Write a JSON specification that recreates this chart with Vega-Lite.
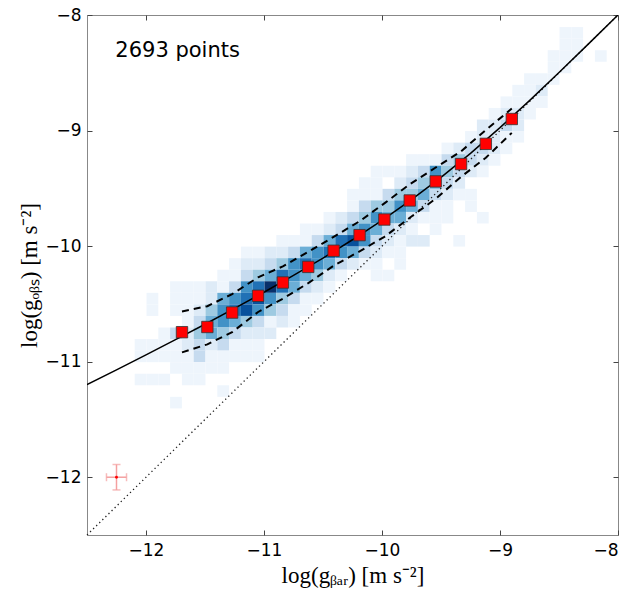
{
  "$schema": "https://vega.github.io/schema/vega-lite/v6.json",
  "autosize": "none",
  "width": 531,
  "height": 520,
  "padding": {"left": 87, "top": 15, "right": 22, "bottom": 61},
  "background": "white",
  "config": {
    "view": {"stroke": "#888888", "strokeWidth": 1},
    "axis": {
      "grid": false,
      "domain": false,
      "ticks": true,
      "tickColor": "#444444",
      "tickWidth": 1,
      "tickSize": 5,
      "offset": -5,
      "labelFont": "DejaVu Sans",
      "labelFontSize": 17,
      "labelColor": "black",
      "titleFont": "Liberation Serif",
      "titleFontSize": 23,
      "titleFontWeight": "normal",
      "titleColor": "black"
    }
  },
  "datasets": {
    "cells": [
      {"x": -11.15, "y": -10.05, "n": 1},
      {"x": -11.25, "y": -10.15, "n": 1}, {"x": -11.15, "y": -10.15, "n": 2},
      {"x": -11.35, "y": -10.25, "n": 1}, {"x": -11.25, "y": -10.25, "n": 1}, {"x": -11.15, "y": -10.25, "n": 3},
      {"x": -11.75, "y": -10.35, "n": 1}, {"x": -11.65, "y": -10.35, "n": 1}, {"x": -11.55, "y": -10.35, "n": 1}, {"x": -11.45, "y": -10.35, "n": 2}, {"x": -11.35, "y": -10.35, "n": 1}, {"x": -11.25, "y": -10.35, "n": 3}, {"x": -11.15, "y": -10.35, "n": 6},
      {"x": -11.95, "y": -10.45, "n": 1}, {"x": -11.75, "y": -10.45, "n": 1}, {"x": -11.65, "y": -10.45, "n": 1}, {"x": -11.55, "y": -10.45, "n": 1}, {"x": -11.45, "y": -10.45, "n": 2}, {"x": -11.35, "y": -10.45, "n": 5}, {"x": -11.25, "y": -10.45, "n": 6}, {"x": -11.15, "y": -10.45, "n": 7},
      {"x": -11.95, "y": -10.55, "n": 1}, {"x": -11.75, "y": -10.55, "n": 1}, {"x": -11.65, "y": -10.55, "n": 1}, {"x": -11.55, "y": -10.55, "n": 2}, {"x": -11.45, "y": -10.55, "n": 4}, {"x": -11.35, "y": -10.55, "n": 6}, {"x": -11.25, "y": -10.55, "n": 7}, {"x": -11.15, "y": -10.55, "n": 8},
      {"x": -11.65, "y": -10.65, "n": 1}, {"x": -11.55, "y": -10.65, "n": 3}, {"x": -11.45, "y": -10.65, "n": 5}, {"x": -11.35, "y": -10.65, "n": 6}, {"x": -11.25, "y": -10.65, "n": 5}, {"x": -11.15, "y": -10.65, "n": 4},
      {"x": -11.85, "y": -10.75, "n": 1}, {"x": -11.75, "y": -10.75, "n": 3}, {"x": -11.65, "y": -10.75, "n": 2}, {"x": -11.55, "y": -10.75, "n": 4}, {"x": -11.45, "y": -10.75, "n": 5}, {"x": -11.35, "y": -10.75, "n": 4}, {"x": -11.25, "y": -10.75, "n": 3}, {"x": -11.15, "y": -10.75, "n": 2},
      {"x": -12.05, "y": -10.85, "n": 1}, {"x": -11.95, "y": -10.85, "n": 1}, {"x": -11.85, "y": -10.85, "n": 1}, {"x": -11.75, "y": -10.85, "n": 1}, {"x": -11.65, "y": -10.85, "n": 2}, {"x": -11.55, "y": -10.85, "n": 3}, {"x": -11.45, "y": -10.85, "n": 2}, {"x": -11.35, "y": -10.85, "n": 3}, {"x": -11.25, "y": -10.85, "n": 1}, {"x": -11.15, "y": -10.85, "n": 1},
      {"x": -12.05, "y": -10.95, "n": 1}, {"x": -11.95, "y": -10.95, "n": 1}, {"x": -11.85, "y": -10.95, "n": 1}, {"x": -11.75, "y": -10.95, "n": 1}, {"x": -11.65, "y": -10.95, "n": 1}, {"x": -11.55, "y": -10.95, "n": 3}, {"x": -11.45, "y": -10.95, "n": 1}, {"x": -11.35, "y": -10.95, "n": 1}, {"x": -11.25, "y": -10.95, "n": 1}, {"x": -11.15, "y": -10.95, "n": 1},
      {"x": -11.75, "y": -11.05, "n": 1}, {"x": -11.65, "y": -11.05, "n": 1}, {"x": -11.55, "y": -11.05, "n": 1}, {"x": -11.45, "y": -11.05, "n": 1}, {"x": -11.35, "y": -11.05, "n": 1},
      {"x": -12.05, "y": -11.15, "n": 1}, {"x": -11.95, "y": -11.15, "n": 1}, {"x": -11.85, "y": -11.15, "n": 1}, {"x": -11.65, "y": -11.15, "n": 1}, {"x": -11.55, "y": -11.15, "n": 1},
      {"x": -11.35, "y": -11.25, "n": 1},
      {"x": -11.75, "y": -11.35, "n": 1},
      {"x": -10.05, "y": -9.35, "n": 1}, {"x": -9.95, "y": -9.35, "n": 1},
      {"x": -10.15, "y": -9.45, "n": 1}, {"x": -10.05, "y": -9.45, "n": 1},
      {"x": -10.25, "y": -9.55, "n": 1}, {"x": -10.15, "y": -9.55, "n": 1}, {"x": -10.05, "y": -9.55, "n": 1}, {"x": -9.95, "y": -9.55, "n": 3},
      {"x": -10.25, "y": -9.65, "n": 1}, {"x": -10.15, "y": -9.65, "n": 3}, {"x": -10.05, "y": -9.65, "n": 4}, {"x": -9.95, "y": -9.65, "n": 4},
      {"x": -10.45, "y": -9.75, "n": 1}, {"x": -10.35, "y": -9.75, "n": 2}, {"x": -10.25, "y": -9.75, "n": 3}, {"x": -10.15, "y": -9.75, "n": 4}, {"x": -10.05, "y": -9.75, "n": 6}, {"x": -9.95, "y": -9.75, "n": 5},
      {"x": -10.65, "y": -9.85, "n": 1}, {"x": -10.55, "y": -9.85, "n": 1}, {"x": -10.45, "y": -9.85, "n": 2}, {"x": -10.35, "y": -9.85, "n": 3}, {"x": -10.25, "y": -9.85, "n": 5}, {"x": -10.15, "y": -9.85, "n": 6}, {"x": -10.05, "y": -9.85, "n": 5}, {"x": -9.95, "y": -9.85, "n": 3},
      {"x": -10.85, "y": -9.95, "n": 1}, {"x": -10.75, "y": -9.95, "n": 1}, {"x": -10.65, "y": -9.95, "n": 1}, {"x": -10.55, "y": -9.95, "n": 3}, {"x": -10.45, "y": -9.95, "n": 5}, {"x": -10.35, "y": -9.95, "n": 7}, {"x": -10.25, "y": -9.95, "n": 8}, {"x": -10.15, "y": -9.95, "n": 6}, {"x": -10.05, "y": -9.95, "n": 3}, {"x": -9.95, "y": -9.95, "n": 2},
      {"x": -11.05, "y": -10.05, "n": 1}, {"x": -10.95, "y": -10.05, "n": 2}, {"x": -10.85, "y": -10.05, "n": 2}, {"x": -10.75, "y": -10.05, "n": 3}, {"x": -10.65, "y": -10.05, "n": 5}, {"x": -10.55, "y": -10.05, "n": 6}, {"x": -10.45, "y": -10.05, "n": 7}, {"x": -10.35, "y": -10.05, "n": 6}, {"x": -10.25, "y": -10.05, "n": 5}, {"x": -10.15, "y": -10.05, "n": 3}, {"x": -10.05, "y": -10.05, "n": 2}, {"x": -9.95, "y": -10.05, "n": 1},
      {"x": -11.05, "y": -10.15, "n": 2}, {"x": -10.95, "y": -10.15, "n": 3}, {"x": -10.85, "y": -10.15, "n": 4}, {"x": -10.75, "y": -10.15, "n": 6}, {"x": -10.65, "y": -10.15, "n": 7}, {"x": -10.55, "y": -10.15, "n": 6}, {"x": -10.45, "y": -10.15, "n": 5}, {"x": -10.35, "y": -10.15, "n": 3}, {"x": -10.25, "y": -10.15, "n": 2}, {"x": -10.15, "y": -10.15, "n": 1}, {"x": -10.05, "y": -10.15, "n": 1},
      {"x": -11.05, "y": -10.25, "n": 4}, {"x": -10.95, "y": -10.25, "n": 5}, {"x": -10.85, "y": -10.25, "n": 7}, {"x": -10.75, "y": -10.25, "n": 6}, {"x": -10.65, "y": -10.25, "n": 5}, {"x": -10.55, "y": -10.25, "n": 4}, {"x": -10.45, "y": -10.25, "n": 2}, {"x": -10.35, "y": -10.25, "n": 1}, {"x": -10.05, "y": -10.25, "n": 1}, {"x": -9.95, "y": -10.25, "n": 1},
      {"x": -11.05, "y": -10.35, "n": 7}, {"x": -10.95, "y": -10.35, "n": 9}, {"x": -10.85, "y": -10.35, "n": 7}, {"x": -10.75, "y": -10.35, "n": 5}, {"x": -10.65, "y": -10.35, "n": 3}, {"x": -10.55, "y": -10.35, "n": 2}, {"x": -10.45, "y": -10.35, "n": 1},
      {"x": -11.05, "y": -10.45, "n": 8}, {"x": -10.95, "y": -10.45, "n": 6}, {"x": -10.85, "y": -10.45, "n": 4}, {"x": -10.75, "y": -10.45, "n": 3}, {"x": -10.65, "y": -10.45, "n": 1}, {"x": -10.55, "y": -10.45, "n": 1},
      {"x": -11.05, "y": -10.55, "n": 6}, {"x": -10.95, "y": -10.55, "n": 4}, {"x": -10.85, "y": -10.55, "n": 3}, {"x": -10.75, "y": -10.55, "n": 1}, {"x": -10.65, "y": -10.55, "n": 1},
      {"x": -11.05, "y": -10.65, "n": 3}, {"x": -10.95, "y": -10.65, "n": 1}, {"x": -10.85, "y": -10.65, "n": 2}, {"x": -10.75, "y": -10.65, "n": 1},
      {"x": -11.05, "y": -10.75, "n": 2}, {"x": -10.95, "y": -10.75, "n": 2},
      {"x": -11.05, "y": -10.85, "n": 1},
      {"x": -11.05, "y": -10.95, "n": 1},
      {"x": -8.85, "y": -8.65, "n": 1}, {"x": -8.75, "y": -8.65, "n": 1},
      {"x": -8.95, "y": -8.75, "n": 1}, {"x": -8.85, "y": -8.75, "n": 1}, {"x": -8.75, "y": -8.75, "n": 1},
      {"x": -9.05, "y": -8.85, "n": 1}, {"x": -8.95, "y": -8.85, "n": 2}, {"x": -8.85, "y": -8.85, "n": 2}, {"x": -8.75, "y": -8.85, "n": 1},
      {"x": -9.15, "y": -8.95, "n": 2}, {"x": -9.05, "y": -8.95, "n": 2}, {"x": -8.95, "y": -8.95, "n": 3}, {"x": -8.85, "y": -8.95, "n": 2},
      {"x": -9.25, "y": -9.05, "n": 1}, {"x": -9.15, "y": -9.05, "n": 2}, {"x": -9.05, "y": -9.05, "n": 2}, {"x": -8.95, "y": -9.05, "n": 1}, {"x": -8.85, "y": -9.05, "n": 1},
      {"x": -9.45, "y": -9.15, "n": 1}, {"x": -9.35, "y": -9.15, "n": 2}, {"x": -9.25, "y": -9.15, "n": 3}, {"x": -9.15, "y": -9.15, "n": 3}, {"x": -9.05, "y": -9.15, "n": 2}, {"x": -8.95, "y": -9.15, "n": 1},
      {"x": -9.75, "y": -9.25, "n": 1}, {"x": -9.65, "y": -9.25, "n": 1}, {"x": -9.55, "y": -9.25, "n": 1}, {"x": -9.45, "y": -9.25, "n": 3}, {"x": -9.35, "y": -9.25, "n": 4}, {"x": -9.25, "y": -9.25, "n": 3}, {"x": -9.15, "y": -9.25, "n": 2}, {"x": -9.05, "y": -9.25, "n": 1},
      {"x": -9.85, "y": -9.35, "n": 1}, {"x": -9.75, "y": -9.35, "n": 2}, {"x": -9.65, "y": -9.35, "n": 3}, {"x": -9.55, "y": -9.35, "n": 6}, {"x": -9.45, "y": -9.35, "n": 4}, {"x": -9.35, "y": -9.35, "n": 3}, {"x": -9.25, "y": -9.35, "n": 2}, {"x": -9.15, "y": -9.35, "n": 1},
      {"x": -9.85, "y": -9.45, "n": 2}, {"x": -9.75, "y": -9.45, "n": 3}, {"x": -9.65, "y": -9.45, "n": 4}, {"x": -9.55, "y": -9.45, "n": 5}, {"x": -9.45, "y": -9.45, "n": 3}, {"x": -9.35, "y": -9.45, "n": 2},
      {"x": -9.85, "y": -9.55, "n": 4}, {"x": -9.75, "y": -9.55, "n": 4}, {"x": -9.65, "y": -9.55, "n": 5}, {"x": -9.55, "y": -9.55, "n": 3}, {"x": -9.45, "y": -9.55, "n": 2}, {"x": -9.35, "y": -9.55, "n": 1}, {"x": -9.25, "y": -9.55, "n": 1},
      {"x": -9.85, "y": -9.65, "n": 6}, {"x": -9.75, "y": -9.65, "n": 5}, {"x": -9.65, "y": -9.65, "n": 3}, {"x": -9.55, "y": -9.65, "n": 1}, {"x": -9.45, "y": -9.65, "n": 1}, {"x": -9.25, "y": -9.65, "n": 1},
      {"x": -9.85, "y": -9.75, "n": 5}, {"x": -9.75, "y": -9.75, "n": 2}, {"x": -9.65, "y": -9.75, "n": 1}, {"x": -9.55, "y": -9.75, "n": 1}, {"x": -9.45, "y": -9.75, "n": 1}, {"x": -9.15, "y": -9.75, "n": 1},
      {"x": -9.85, "y": -9.85, "n": 2}, {"x": -9.75, "y": -9.85, "n": 1}, {"x": -9.55, "y": -9.85, "n": 1},
      {"x": -9.85, "y": -9.95, "n": 1}, {"x": -9.75, "y": -9.95, "n": 2}, {"x": -9.65, "y": -9.95, "n": 2}, {"x": -9.35, "y": -9.95, "n": 1},
      {"x": -9.85, "y": -10.05, "n": 1},
      {"x": -9.85, "y": -10.15, "n": 1},
      {"x": -8.45, "y": -8.15, "n": 1}, {"x": -8.35, "y": -8.15, "n": 1},
      {"x": -8.45, "y": -8.25, "n": 1}, {"x": -8.35, "y": -8.25, "n": 1},
      {"x": -8.55, "y": -8.35, "n": 1}, {"x": -8.45, "y": -8.35, "n": 1}, {"x": -8.35, "y": -8.35, "n": 1}, {"x": -8.15, "y": -8.35, "n": 1},
      {"x": -8.55, "y": -8.45, "n": 1}, {"x": -8.45, "y": -8.45, "n": 1},
      {"x": -8.75, "y": -8.55, "n": 1}, {"x": -8.65, "y": -8.55, "n": 1}, {"x": -8.55, "y": -8.55, "n": 1},
      {"x": -8.65, "y": -8.65, "n": 2},
      {"x": -8.65, "y": -8.75, "n": 1}
    ],
    "rar": [
      {"x": -12.5, "y": -11.199}, {"x": -12.25, "y": -11.071}, {"x": -12.0, "y": -10.941},
      {"x": -11.75, "y": -10.809}, {"x": -11.5, "y": -10.676}, {"x": -11.25, "y": -10.539},
      {"x": -11.0, "y": -10.399}, {"x": -10.75, "y": -10.254}, {"x": -10.5, "y": -10.104},
      {"x": -10.25, "y": -9.945}, {"x": -10.0, "y": -9.777}, {"x": -9.75, "y": -9.598},
      {"x": -9.5, "y": -9.405}, {"x": -9.25, "y": -9.197}, {"x": -9.0, "y": -8.975},
      {"x": -8.75, "y": -8.741}, {"x": -8.5, "y": -8.497}, {"x": -8.25, "y": -8.25},
      {"x": -8.0, "y": -8.0}
    ],
    "bins": [
      {"x": -11.695, "y": -10.745, "hi": -10.565, "lo": -10.92},
      {"x": -11.48, "y": -10.70, "hi": -10.52, "lo": -10.85},
      {"x": -11.27, "y": -10.575, "hi": -10.415, "lo": -10.745},
      {"x": -11.05, "y": -10.43, "hi": -10.27, "lo": -10.57},
      {"x": -10.84, "y": -10.315, "hi": -10.175, "lo": -10.455},
      {"x": -10.625, "y": -10.18, "hi": -10.05, "lo": -10.32},
      {"x": -10.41, "y": -10.04, "hi": -9.92, "lo": -10.17},
      {"x": -10.19, "y": -9.905, "hi": -9.785, "lo": -10.045},
      {"x": -9.98, "y": -9.77, "hi": -9.63, "lo": -9.92},
      {"x": -9.765, "y": -9.605, "hi": -9.465, "lo": -9.755},
      {"x": -9.545, "y": -9.44, "hi": -9.32, "lo": -9.59},
      {"x": -9.33, "y": -9.29, "hi": -9.18, "lo": -9.40},
      {"x": -9.12, "y": -9.115, "hi": -8.995, "lo": -9.235},
      {"x": -8.90, "y": -8.90, "hi": -8.81, "lo": -9.02}
    ],
    "unity": [{"x": -12.5, "y": -12.5}, {"x": -8.0, "y": -8.0}],
    "err": [{"x": -12.25, "y": -12.0, "xlo": -12.335, "xhi": -12.165, "ylo": -12.11, "yhi": -11.89}],
    "label": [{"x": -12.26, "y": -8.31, "t": "2693 points"}]
  },
  "resolve": {"axis": {"x": "independent", "y": "independent"}},
  "layer": [
    {
      "data": {"name": "cells"},
      "mark": {"type": "rect"},
      "encoding": {
        "x": {
          "field": "x", "type": "quantitative",
          "bin": {"extent": [-12.5, -8], "step": 0.1},
          "scale": {"domain": [-12.5, -8], "nice": false, "zero": false},
          "axis": {"orient": "bottom", "values": [-12, -11, -10, -9, -8], "format": "d", "labelPadding": 7, "title": "log(gᵦₐᵣ) [m s⁻²]", "titlePadding": 6}
        },
        "y": {
          "field": "y", "type": "quantitative",
          "bin": {"extent": [-12.5, -8], "step": 0.1},
          "scale": {"domain": [-12.5, -8], "nice": false, "zero": false},
          "axis": {"orient": "left", "values": [-12, -11, -10, -9, -8], "format": "d", "labelPadding": 6, "title": "log(gₒᵦₛ) [m s⁻²]", "titlePadding": 4}
        },
        "color": {
          "field": "n", "type": "quantitative", "legend": null,
          "scale": {
            "domain": [1, 2, 3, 4, 5, 6, 7, 8, 9],
            "range": ["#eef5fc", "#deebf7", "#c6dbef", "#9ecae1", "#6baed6", "#4292c6", "#2171b5", "#08519c", "#08306b"]
          }
        }
      }
    },
    {
      "data": {"name": "unity"},
      "mark": {"type": "line", "color": "#222222", "strokeWidth": 1.3, "strokeDash": [1.3, 3]},
      "encoding": {
        "x": {"field": "x", "type": "quantitative", "axis": {"orient": "top", "values": [-12, -11, -10, -9, -8], "labels": false, "title": null}},
        "y": {"field": "y", "type": "quantitative", "axis": {"orient": "right", "values": [-12, -11, -10, -9, -8], "labels": false, "title": null}}
      }
    },
    {
      "data": {"name": "rar"},
      "mark": {"type": "line", "color": "black", "strokeWidth": 1.5, "clip": true},
      "encoding": {
        "x": {"field": "x", "type": "quantitative", "axis": null},
        "y": {"field": "y", "type": "quantitative", "axis": null}
      }
    },
    {
      "data": {"name": "bins"},
      "mark": {"type": "line", "color": "black", "strokeWidth": 2, "strokeDash": [7, 5]},
      "encoding": {
        "x": {"field": "x", "type": "quantitative", "axis": null},
        "y": {"field": "hi", "type": "quantitative", "axis": null}
      }
    },
    {
      "data": {"name": "bins"},
      "mark": {"type": "line", "color": "black", "strokeWidth": 2, "strokeDash": [7, 5]},
      "encoding": {
        "x": {"field": "x", "type": "quantitative", "axis": null},
        "y": {"field": "lo", "type": "quantitative", "axis": null}
      }
    },
    {
      "data": {"name": "bins"},
      "mark": {"type": "point", "shape": "square", "filled": true, "fill": "#ff0000", "stroke": "#333333", "strokeWidth": 0.8, "size": 130, "opacity": 1},
      "encoding": {
        "x": {"field": "x", "type": "quantitative", "axis": null},
        "y": {"field": "y", "type": "quantitative", "axis": null}
      }
    },
    {
      "data": {"name": "err"},
      "mark": {"type": "errorbar", "ticks": true, "size": 8, "thickness": 1.5, "color": "#f4a0a0"},
      "encoding": {
        "x": {"field": "xlo", "type": "quantitative", "axis": null},
        "x2": {"field": "xhi"},
        "y": {"field": "y", "type": "quantitative", "axis": null}
      }
    },
    {
      "data": {"name": "err"},
      "mark": {"type": "errorbar", "ticks": true, "size": 8, "thickness": 1.5, "color": "#f4a0a0"},
      "encoding": {
        "y": {"field": "ylo", "type": "quantitative", "axis": null},
        "y2": {"field": "yhi"},
        "x": {"field": "x", "type": "quantitative", "axis": null}
      }
    },
    {
      "data": {"name": "err"},
      "mark": {"type": "point", "shape": "circle", "filled": true, "color": "#ff0000", "size": 8, "opacity": 1},
      "encoding": {
        "x": {"field": "x", "type": "quantitative", "axis": null},
        "y": {"field": "y", "type": "quantitative", "axis": null}
      }
    },
    {
      "data": {"name": "label"},
      "mark": {"type": "text", "align": "left", "baseline": "middle", "font": "DejaVu Sans", "fontSize": 21, "color": "black"},
      "encoding": {
        "x": {"field": "x", "type": "quantitative", "axis": null},
        "y": {"field": "y", "type": "quantitative", "axis": null},
        "text": {"field": "t"}
      }
    }
  ]
}
